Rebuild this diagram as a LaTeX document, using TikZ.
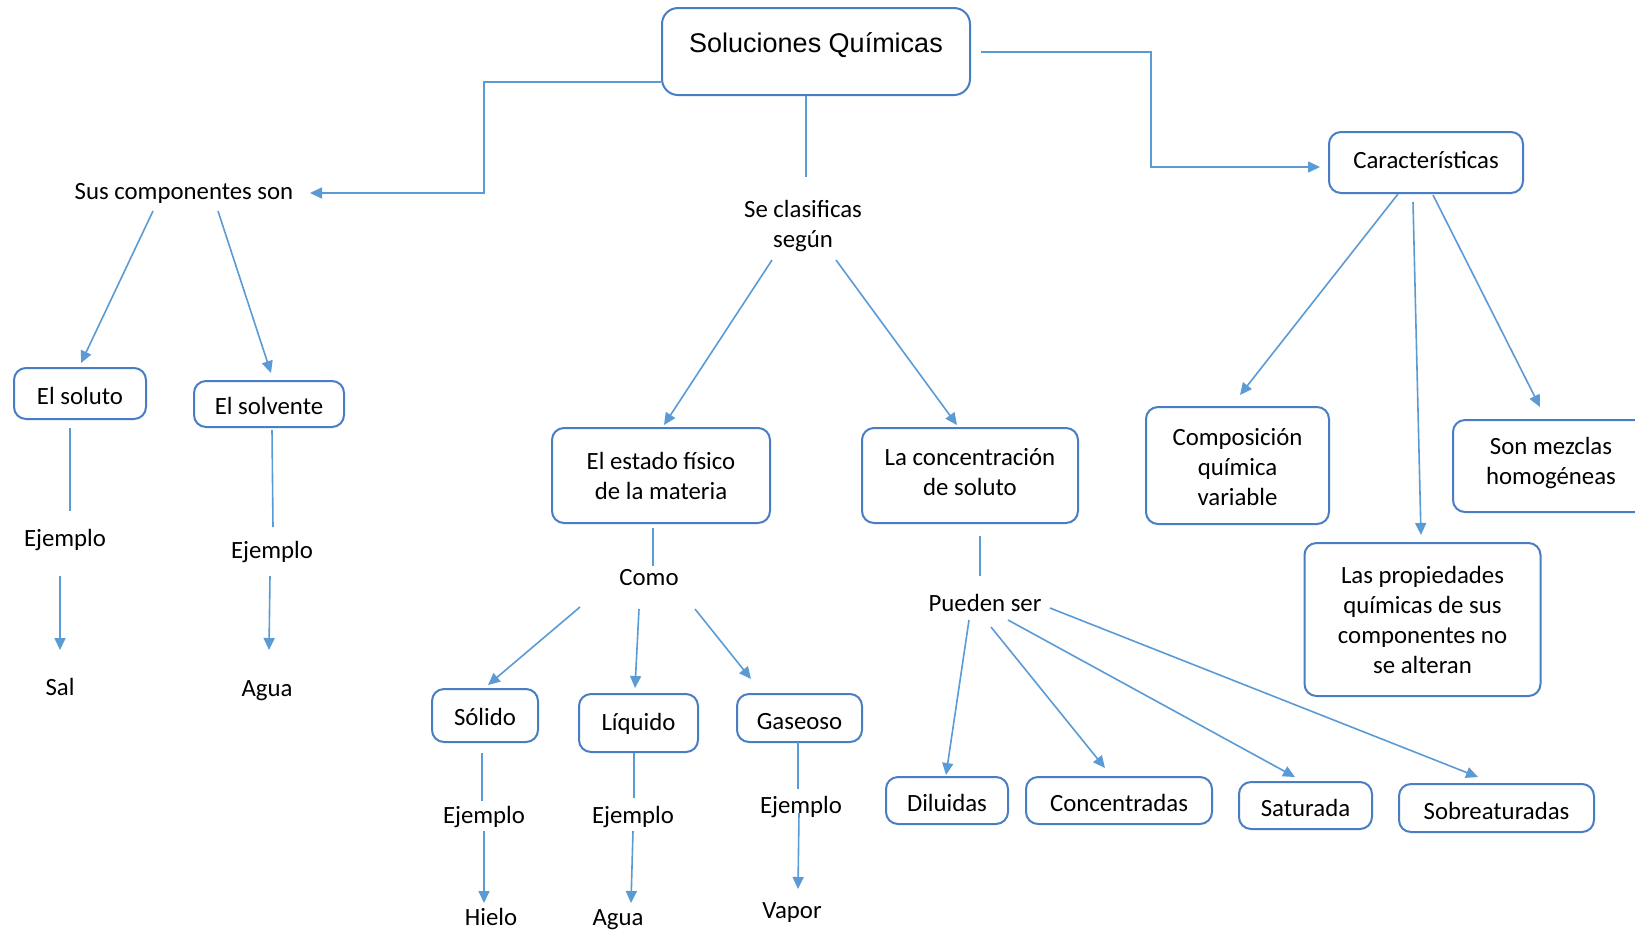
\documentclass[tikz,border=0pt]{standalone}
\usepackage{fontspec}
\setmainfont{Carlito}
\newfontfamily\titlefont{Liberation Sans}
\usetikzlibrary{arrows.meta}
\definecolor{lineblue}{RGB}{91,155,213}
\definecolor{boxblue}{RGB}{74,126,196}
\newcommand\mapfont{\fontsize{12.4}{15}\selectfont}
\begin{document}
\begin{tikzpicture}[x=0.5pt,y=-0.5pt,
  lbl/.style={inner sep=0pt, text height=0.87em, text depth=0.13em, font=\mapfont},
  mlbl/.style={inner sep=0pt, align=center, font=\mapfont},
  box/.style={draw=boxblue, line width=1pt, rounded corners=6pt, align=center,
              inner sep=2pt, font=\mapfont, fill=white},
  sbox/.style={box, text height=1.1em, text depth=0em},
  ln/.style={draw=lineblue, line width=0.8pt},
  arr/.style={ln, -{Triangle[length=6pt,width=5.5pt]}}]
\clip (0,0) rectangle (1635,934);
\fill[white] (0,0) rectangle (1635,934);

% title
\node[box, rounded corners=8pt, minimum width=154pt, minimum height=43.5pt,
      font=\titlefont\fontsize{13.5}{16}\selectfont, text height=10pt, text depth=9pt]
      (sol) at (816,51.5) {Soluciones Químicas};

% components branch
\node[lbl] (scs) at (184,192) {Sus componentes son};
\node[sbox, minimum width=66pt, minimum height=25.5pt, text height=1.06em] (soluto) at (80,393.5) {El soluto};
\node[sbox, minimum width=75pt, minimum height=23pt, text height=1.06em] (solvente) at (269,404) {El solvente};
\node[lbl] (ej1) at (65,539) {Ejemplo};
\node[lbl] (sal) at (60,688) {Sal};
\node[lbl] (ej2) at (272,551) {Ejemplo};
\node[lbl] (agua1) at (267,689) {Agua};

% classification branch
\node[mlbl] (sec) at (803,226) {Se clasificas\\según};
\node[box, minimum width=109pt, minimum height=47.5pt] (estado) at (661,475.5) {El estado físico\\de la materia};
\node[box, minimum width=108pt, minimum height=47.5pt] (conc) at (970,475.5) {La concentración\\de soluto\rule[-3.6pt]{0pt}{0pt}};
\node[lbl] (como) at (649,578) {Como};
\node[sbox, minimum width=53pt, minimum height=26.5pt, text height=0.95em] (solido) at (485,715.5) {Sólido};
\node[sbox, minimum width=59.5pt, minimum height=29pt, text height=0.9em, text depth=0.2em] (liquido) at (638.5,723) {Líquido};
\node[sbox, minimum width=62.5pt, minimum height=24pt] (gaseoso) at (799.5,718) {Gaseoso};
\node[lbl] (ej3) at (484,816) {Ejemplo};
\node[lbl] (hielo) at (491,918) {Hielo};
\node[lbl] (ej4) at (633,816) {Ejemplo};
\node[lbl] (agua2) at (618,918) {Agua};
\node[lbl] (ej5) at (801,806) {Ejemplo};
\node[lbl] (vapor) at (792,911) {Vapor};
\node[lbl] (pueden) at (985,604) {Pueden ser};
\node[sbox, minimum width=61pt, minimum height=23.5pt] (diluidas) at (947,800.5) {Diluidas};
\node[sbox, minimum width=93pt, minimum height=23.5pt] (concentradas) at (1119,800.5) {Concentradas};
\node[sbox, minimum width=66.5pt, minimum height=23.5pt] (saturada) at (1305.5,805.5) {Saturada};
\node[sbox, minimum width=97.5pt, minimum height=24pt] (sobre) at (1496.5,808) {Sobreaturadas};

% characteristics branch
\node[sbox, minimum width=97pt, minimum height=30.5pt, text height=0.8em, text depth=0.21em] (carac) at (1426,162.5) {Características};
\node[box, minimum width=91.5pt, minimum height=58.5pt] (compo) at (1237.5,465.5) {\rule{0pt}{9.8pt}Composición\\química\\variable};
\node[box, minimum width=118pt, minimum height=76.5pt] (prop) at (1422.5,619.5) {Las propiedades\\químicas de sus\\componentes no\\se alteran};
\node[box, minimum width=98pt, minimum height=46pt] (mezclas) at (1551,466) {Son mezclas\\homogéneas\rule[-5.2pt]{0pt}{0pt}};

% connectors from the title
\draw[arr] ([shift={(0,30.5)}]sol.west) -- ++(-177,0) |- ([shift={(126,1)}]scs.center);
\draw[arr] ([shift={(10,0.5)}]sol.east) -- ++(170,0) |- ([shift={(-8,4.5)}]carac.west);
\draw[ln] ([shift={(-10,0)}]sol.south) -- ([shift={(3,-49)}]sec.center);

% components
\draw[arr] ([shift={(-31,19)}]scs.center) -- ([shift={(1,-30.5)}]soluto.center);
\draw[arr] ([shift={(34,19)}]scs.center) -- ([shift={(2,-31)}]solvente.center);
\draw[ln] ([shift={(-10,34.5)}]soluto.center) -- ([shift={(5,-28)}]ej1.center);
\draw[arr] ([shift={(-5,37)}]ej1.center) -- ([shift={(0,-38)}]sal.center);
\draw[ln] ([shift={(3,26)}]solvente.center) -- ([shift={(1,-24)}]ej2.center);
\draw[arr] ([shift={(-2,25)}]ej2.center) -- ([shift={(2,-39)}]agua1.center);

% classification
\draw[arr] ([shift={(-31,34)}]sec.center) -- ([shift={(3,-50.5)}]estado.center);
\draw[arr] ([shift={(33,34)}]sec.center) -- ([shift={(-13,-50.5)}]conc.center);
\draw[ln] ([shift={(-8,52.5)}]estado.center) -- ([shift={(4,-12)}]como.center);
\draw[arr] ([shift={(-69,29)}]como.center) -- ([shift={(3,-30.5)}]solido.center);
\draw[arr] ([shift={(-10,31)}]como.center) -- ([shift={(-3.5,-35)}]liquido.center);
\draw[arr] ([shift={(46,31)}]como.center) -- ([shift={(-48.5,-39)}]gaseoso.center);
\draw[ln] ([shift={(-3,37.5)}]solido.center) -- ([shift={(-2,-15)}]ej3.center);
\draw[arr] ([shift={(0,15)}]ej3.center) -- ([shift={(-7,-15)}]hielo.center);
\draw[ln] ([shift={(-4.5,30)}]liquido.center) -- ([shift={(1,-18)}]ej4.center);
\draw[arr] ([shift={(0,15)}]ej4.center) -- ([shift={(13,-15)}]agua2.center);
\draw[ln] ([shift={(-1.5,24)}]gaseoso.center) -- ([shift={(-3,-17)}]ej5.center);
\draw[arr] ([shift={(-2,7)}]ej5.center) -- ([shift={(6,-22)}]vapor.center);
\draw[ln] ([shift={(10,60.5)}]conc.center) -- ([shift={(-5,-28)}]pueden.center);
\draw[arr] ([shift={(-16,16)}]pueden.center) -- ([shift={(-1,-25.5)}]diluidas.center);
\draw[arr] ([shift={(6,23)}]pueden.center) -- ([shift={(-14,-32.5)}]concentradas.center);
\draw[arr] ([shift={(23,16)}]pueden.center) -- ([shift={(-10.5,-28.5)}]saturada.center);
\draw[arr] ([shift={(65,4)}]pueden.center) -- ([shift={(-18.5,-31)}]sobre.center);

% characteristics
\draw[arr] ([shift={(-28,31.5)}]carac.center) -- ([shift={(2.5,-70.5)}]compo.center);
\draw[arr] ([shift={(-13,39.5)}]carac.center) -- ([shift={(-1.5,-84.5)}]prop.center);
\draw[arr] ([shift={(7,32.5)}]carac.center) -- ([shift={(-11,-59)}]mezclas.center);
\end{tikzpicture}
\end{document}
